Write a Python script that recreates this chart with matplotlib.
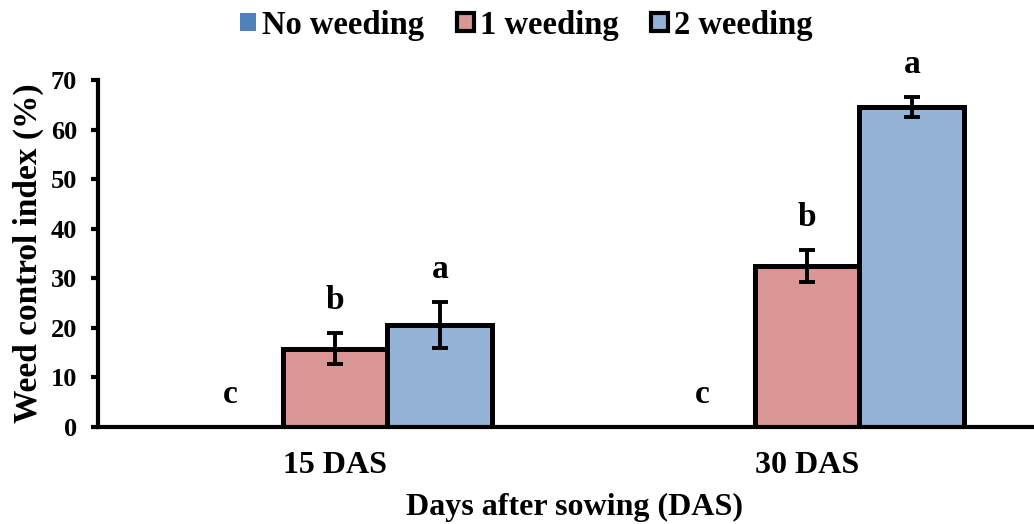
import matplotlib
matplotlib.use("Agg")
import matplotlib.pyplot as plt
from matplotlib.patches import Patch
import numpy as np

plt.rcParams['font.family'] = ['Liberation Serif', 'DejaVu Serif']
plt.rcParams['font.weight'] = 'bold'

# Data
categories = ["15 DAS", "30 DAS"]
series_names = ["No weeding", "1 weeding", "2 weeding"]
no_weeding = [0.0, 0.0]
one_weeding = [15.8, 32.5]
two_weeding = [20.6, 64.5]
no_weeding_err = [0.0, 0.0]
one_weeding_err = [3.1, 3.2]
two_weeding_err = [4.6, 2.0]
letters_no = ["c", "c"]
letters_one = ["b", "b"]
letters_two = ["a", "a"]
y_ticks = [0, 10, 20, 30, 40, 50, 60, 70]

fill_colors = ["#4F81BD", "#D99694", "#95B3D7"]

fig = plt.figure(figsize=(10.34, 5.24), dpi=100)
ax = fig.add_axes([0.0948, 0.1851, 0.9052, 0.6622])

x = np.arange(len(categories))
width = 0.222
offsets = [-width, 0.0, width]
values = [no_weeding, one_weeding, two_weeding]
errors = [no_weeding_err, one_weeding_err, two_weeding_err]
letters = [letters_no, letters_one, letters_two]

for i in range(3):
    xs = x + offsets[i]
    if i > 0:
        ax.bar(xs, values[i], width, color=fill_colors[i], edgecolor="black",
               linewidth=3.6, zorder=2)
        ax.errorbar(xs, values[i], yerr=errors[i], fmt="none", ecolor="black",
                    elinewidth=2.8, capsize=5.5, capthick=2.8, zorder=3)
    for xi, v, e, lab in zip(xs, values[i], errors[i], letters[i]):
        ax.text(xi, v + e + 6.6, lab, ha="center", va="center", fontsize=24,
                fontweight="bold", clip_on=False)

ax.set_xlim(-0.502, 1.481)
ax.set_ylim(0, 70)
ax.set_yticks(y_ticks)
ax.set_xticks(x)
ax.set_xticklabels(categories, fontsize=23, fontweight="bold")
ax.tick_params(axis="x", length=0, pad=17)
ax.tick_params(axis="y", direction="out", length=5, width=3, labelsize=19, pad=10)
for lab in ax.get_yticklabels():
    lab.set_fontweight("bold")

ax.spines["top"].set_visible(False)
ax.spines["right"].set_visible(False)
ax.spines["left"].set_linewidth(3)
ax.spines["bottom"].set_linewidth(3)

ax.set_ylabel("Weed control index (%)", fontsize=24, fontweight="bold", labelpad=5)
fig.text(574 / 1034, 1 - 515 / 524, "Days after sowing (DAS)", ha="center",
         va="baseline", fontsize=23, fontweight="bold")

handles = [
    Patch(facecolor=fill_colors[0], edgecolor="none"),
    Patch(facecolor=fill_colors[1], edgecolor="black", linewidth=3),
    Patch(facecolor=fill_colors[2], edgecolor="black", linewidth=3),
]
fig.legend(handles, series_names, loc="center", bbox_to_anchor=(0.509, 0.952),
           ncol=3, frameon=False, prop={"size": 23.5, "weight": "bold"},
           handlelength=0.5, handleheight=0.5, handletextpad=0.2, columnspacing=1.0)

fig.savefig("out.png", dpi=100)
